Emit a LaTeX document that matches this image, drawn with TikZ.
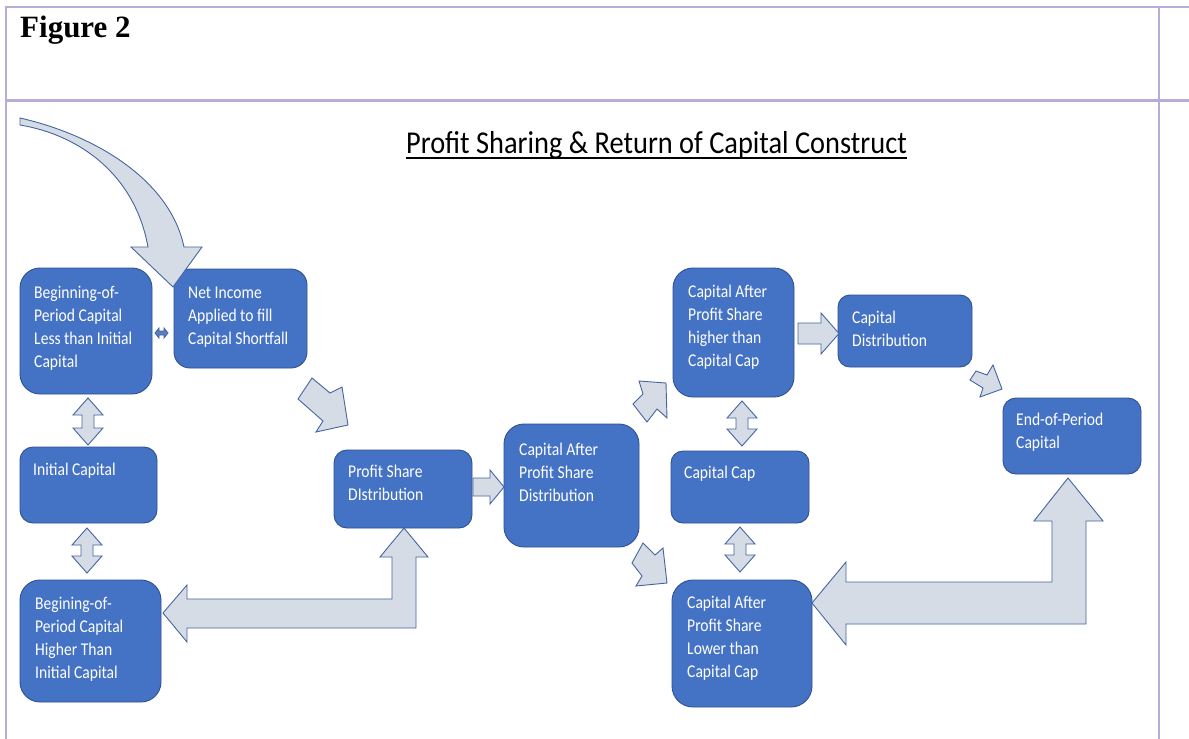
\documentclass[tikz,border=0pt]{standalone}
\usepackage{fontspec}
\usepackage{graphicx}
\setmainfont{Carlito}
\newfontfamily\figfont{Liberation Serif}
\usetikzlibrary{calc}

\definecolor{panelblue}{HTML}{4472C4}
\definecolor{paneledge}{HTML}{2F528F}
\definecolor{arrowfill}{HTML}{D6DCE5}
\definecolor{arrowedge}{HTML}{4565A0}
\definecolor{smallarrow}{HTML}{5A7EC2}
\definecolor{framelav}{HTML}{B9ABD8}

% multi-line cell text, first line on the node's baseline, slightly tall glyphs
\newcommand\celltext[1]{\scalebox{1}[1.15]{\begin{tabular}[t]{@{}l@{}}#1\end{tabular}}}
% vertical two-headed block arrow: centre x, top y, bottom y
\newcommand\vdarrow[3]{%
  \draw[blk] (#1,#2) -- (#1+15,#2+17) -- (#1+6,#2+17) -- (#1+6,#3-17) -- (#1+15,#3-17)
    -- (#1,#3) -- (#1-15,#3-17) -- (#1-6,#3-17) -- (#1-6,#2+17) -- (#1-15,#2+17) -- cycle;}

\begin{document}
\begin{tikzpicture}[x=1pt,y=-1pt,
  panel/.style={draw=paneledge, fill=panelblue, line width=0.9pt, inner sep=0pt, outer sep=0pt},
  lbl/.style={anchor=base west, inner sep=0pt, text=white, font=\fontsize{15.6}{20.2}\selectfont},
  blk/.style={draw=arrowedge, fill=arrowfill, line width=0.9pt},
  frameline/.style={draw=framelav, line width=2pt}]

\useasboundingbox (0,0) rectangle (1189,739);
\fill[white] (0,0) rectangle (1189,739);

% page frame
\draw[frameline] (5,7) -- (1189,7);
\draw[frameline] (6,7) -- (6,739);
\draw[frameline] (1159,7) -- (1159,739);
\draw[draw=framelav, line width=3pt] (5,100) -- (1189,100);

% heading and title
\node[anchor=base west, inner sep=0pt, font=\figfont\bfseries\fontsize{31}{36}\selectfont] (fig) at (20,37) {Figure 2};
\node[anchor=base, inner sep=0pt, font=\fontsize{28.4}{34}\selectfont] (title) at (656.5,153)
  {\scalebox{1}[1.12]{Profit Sharing \& Return of Capital Construct}};
\draw[line width=1.6pt] ($(title.base west)+(0,5)$) -- ($(title.base east)+(0,5)$);

% boxes
\node[panel, minimum width=132pt, minimum height=126pt, rounded corners=20pt] (b1) at (86,331) {};
\node[panel, minimum width=133pt, minimum height=99pt, rounded corners=16pt] (b2) at (240.5,318.5) {};
\node[panel, minimum width=137pt, minimum height=76pt, rounded corners=13pt] (b3) at (88.5,485) {};
\node[panel, minimum width=141pt, minimum height=122pt, rounded corners=20pt] (b4) at (90.5,641) {};
\node[panel, minimum width=138pt, minimum height=78pt, rounded corners=13pt] (b5) at (403,489) {};
\node[panel, minimum width=135pt, minimum height=123pt, rounded corners=20pt] (b6) at (571.5,485.5) {};
\node[panel, minimum width=121pt, minimum height=129pt, rounded corners=20pt] (b7) at (733.5,332.5) {};
\node[panel, minimum width=138pt, minimum height=72pt, rounded corners=12pt] (b8) at (740,487) {};
\node[panel, minimum width=140pt, minimum height=127pt, rounded corners=21pt] (b9) at (742,643.5) {};
\node[panel, minimum width=134pt, minimum height=72pt, rounded corners=12pt] (b10) at (905,331) {};
\node[panel, minimum width=138pt, minimum height=76pt, rounded corners=13pt] (b11) at (1072,436) {};

% box texts
\node[lbl] (t1) at ($(b1.north west)+(14,30)$) {\celltext{Beginning-of-\\Period Capital\\Less than Initial\\Capital}};
\node[lbl] (t2) at ($(b2.north west)+(14,29)$) {\celltext{Net Income\\Applied to fill\\Capital Shortfall}};
\node[lbl] (t3) at ($(b3.north west)+(13,28)$) {\celltext{Initial Capital}};
\node[lbl] (t4) at ($(b4.north west)+(15,29)$) {\celltext{Begining-of-\\Period Capital\\Higher Than\\Initial Capital}};
\node[lbl] (t5) at ($(b5.north west)+(14,27)$) {\celltext{Profit Share\\DIstribution}};
\node[lbl] (t6) at ($(b6.north west)+(15,31)$) {\celltext{Capital After\\Profit Share\\Distribution}};
\node[lbl] (t7) at ($(b7.north west)+(15,29)$) {\celltext{Capital After\\Profit Share\\higher than\\Capital Cap}};
\node[lbl] (t8) at ($(b8.north west)+(13,27)$) {\celltext{Capital Cap}};
\node[lbl] (t9) at ($(b9.north west)+(15,28)$) {\celltext{Capital After\\Profit Share\\Lower than\\Capital Cap}};
\node[lbl] (t10) at ($(b10.north west)+(14,28)$) {\celltext{Capital\\Distribution}};
\node[lbl] (t11) at ($(b11.north west)+(13,27)$) {\celltext{End-of-Period\\Capital}};

% curved inflow arrow into the shortfall box
\draw[blk] (20,118) .. controls (95,135) and (170,180) .. (184,247) -- (202,247) -- (173,287)
  -- (131,247) -- (148,247) .. controls (135,175) and (80,135) .. (20,125) -- cycle;

% small two-headed arrow between the first two boxes
\draw[draw=arrowedge, fill=smallarrow, line width=0.8pt] (155,333) -- (159,328) -- (159,331) -- (164,331)
  -- (164,328) -- (168,333) -- (164,338) -- (164,335) -- (159,335) -- (159,338) -- cycle;

% vertical two-headed arrows
\vdarrow{88}{398}{445}
\vdarrow{87}{528}{573}
\vdarrow{742}{401}{446}
\vdarrow{740}{527}{572}

% straight block arrows
\draw[blk] (473,478) -- (490,478) -- (490,470) -- (504,487) -- (490,504) -- (490,496) -- (473,496) -- cycle;
\draw[blk] (798,323) -- (821,323) -- (821,313) -- (839,333.5) -- (821,354) -- (821,344) -- (798,344) -- cycle;

% diagonal block arrows
\draw[blk] (298,399) -- (312,378) -- (330,393) -- (342,387) -- (348,425) -- (316,432) -- (323,421) -- cycle;
\draw[blk] (647,422) -- (633,404) -- (643,394) -- (639,381) -- (666,383) -- (667,418) -- (657,409) -- cycle;
\draw[blk] (632,563) -- (643,543) -- (655,555) -- (663,548) -- (667,583) -- (636,586) -- (642,576) -- cycle;
\draw[blk] (970,380) -- (976,371) -- (987,375) -- (993,365) -- (1002,389) -- (980,397) -- (983,388) -- cycle;

% bent block arrows feeding back to the left
\draw[blk] (404,528) -- (428,557) -- (416,557) -- (416,628) -- (187,628) -- (187,642) -- (163,613)
  -- (187,585) -- (187,599) -- (392,599) -- (392,557) -- (380,557) -- cycle;
\draw[blk] (1068,478) -- (1103,521) -- (1086,521) -- (1086,624) -- (846,624) -- (846,645) -- (812,603)
  -- (846,562) -- (846,582) -- (1052,582) -- (1052,521) -- (1034,521) -- cycle;

\end{tikzpicture}
\end{document}
